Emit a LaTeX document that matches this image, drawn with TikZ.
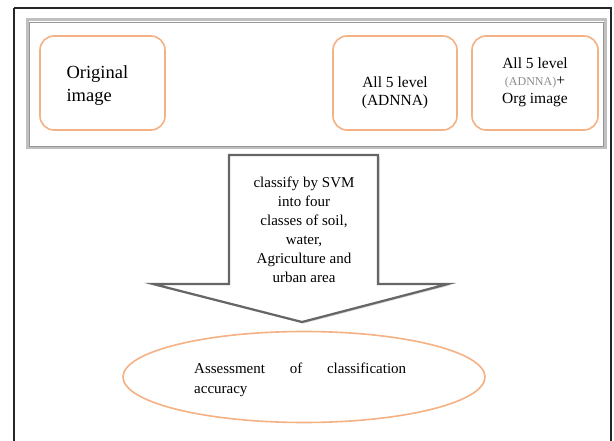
\documentclass[tikz,border=0pt]{standalone}
\usepackage{fontspec}
\setmainfont{Liberation Serif}
\usetikzlibrary{shapes.geometric,shadows}
\definecolor{boxorange}{RGB}{244,177,131}
\definecolor{framegray}{RGB}{150,150,150}
\tikzset{
  imgbox/.style={draw=boxorange, line width=1.6pt, rounded corners=14pt, fill=white},
  arrowshape/.style={draw=black!60, line width=2.2pt, fill=white, line join=miter,
    drop shadow={shadow xshift=1.5pt, shadow yshift=-1.5pt, opacity=0.35}},
  txt/.style={font=\fontsize{15.5}{17.5}\selectfont, align=center}
}
\begin{document}
\begin{tikzpicture}[x=1pt,y=-1pt]
\useasboundingbox (0,0) rectangle (614,441);
% outer frame
\draw[line width=1.8pt, black!85] (14,8) -- (611,8) -- (611,450) ;
\draw[line width=1.8pt, black!85] (14,8) -- (14,450);
% inner gray double frame
\draw[draw=framegray!60, line width=3pt] (27,20) rectangle (605,148);
\draw[draw=framegray, line width=0.8pt] (29,22) rectangle (603,146);
% boxes
\node[imgbox, minimum width=125pt, minimum height=94pt] (orig) at (102.5,83) {};
\node[font=\fontsize{18.5}{23}\selectfont, align=left, anchor=west] (origt) at (63,86) {Original\\image};
\node[imgbox, minimum width=124pt, minimum height=94pt] (adnna) at (395,83) {};
\node[txt] (adnnat) at (395,93) {All 5 level\\(ADNNA)};
\node[imgbox, minimum width=126pt, minimum height=94pt] (comb) at (535,83) {};
\node[txt] (combt) at (535,82) {All 5 level\\{\color{black!45}\fontsize{12}{17.5}\selectfont(ADNNA)}+\\Org image};
% arrow
\draw[arrowshape] (229,155) -- (378,155) -- (378,284) -- (448,284) -- (302,322) -- (153,284) -- (229,284) -- cycle;
\node[font=\fontsize{15}{19}\selectfont, align=center] (svm) at (304,230) {classify by SVM\\into four\\classes of soil,\\water,\\Agriculture and\\urban area};
% ellipse
\node[draw=boxorange, line width=1.6pt, ellipse, minimum width=362pt, minimum height=91pt] (assess) at (304,377) {};
\node[font=\fontsize{15}{20}\selectfont, align=left, anchor=north west, text width=212pt, inner sep=0pt] (assesst) at (194,363) {Assessment\hfill of\hfill classification\\accuracy};
\end{tikzpicture}
\end{document}
